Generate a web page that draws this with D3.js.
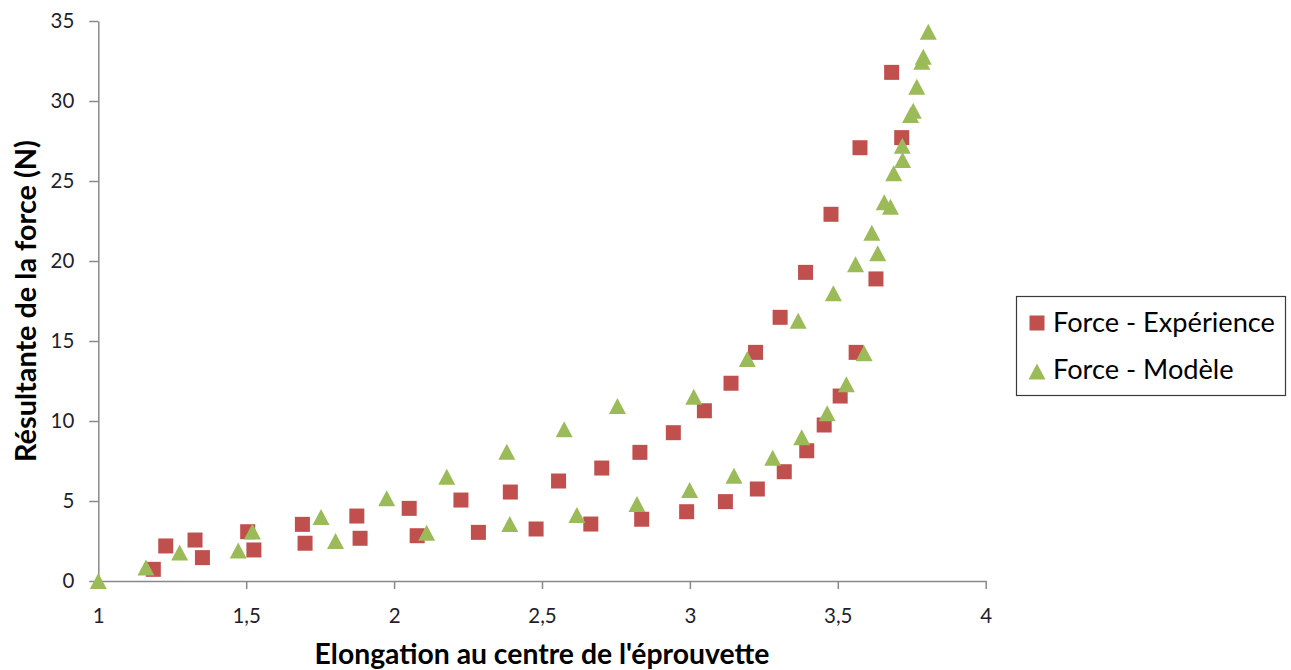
<!DOCTYPE html>
<html>
<head>
<meta charset="utf-8">
<script src="https://cdnjs.cloudflare.com/ajax/libs/d3/7.8.5/d3.min.js"></script>
<style>
  html, body { margin: 0; padding: 0; background: #fff; }
  svg { display: block; }
</style>
</head>
<body>
<svg id="chart" width="1291" height="670"></svg>
<script>
// ---- Data ----
const seriesNames = ["Force - Expérience", "Force - Modèle"];

const experienceX = [1.186, 1.228, 1.327, 1.352, 1.505, 1.526, 1.690, 1.699, 1.874, 1.885,
  2.051, 2.078, 2.226, 2.285, 2.393, 2.480, 2.556, 2.665, 2.702, 2.831,
  2.837, 2.944, 2.989, 3.049, 3.120, 3.139, 3.228, 3.222, 3.319, 3.305,
  3.395, 3.391, 3.454, 3.477, 3.508, 3.562, 3.575, 3.629, 3.682, 3.716];
const experienceY = [0.73, 2.19, 2.56, 1.46, 3.08, 1.94, 3.54, 2.36, 4.06, 2.67,
  4.54, 2.83, 5.06, 3.04, 5.56, 3.25, 6.25, 3.56, 7.06, 8.04,
  3.86, 9.27, 4.33, 10.64, 4.96, 12.36, 5.75, 14.29, 6.83, 16.48,
  8.14, 19.29, 9.75, 22.92, 11.56, 14.29, 27.08, 18.88, 31.79, 27.71];

const modelX = [1.000, 1.161, 1.275, 1.473, 1.521, 1.753, 1.802, 1.975, 2.110, 2.178,
  2.381, 2.391, 2.575, 2.618, 2.755, 2.821, 2.999, 3.013, 3.149, 3.194,
  3.280, 3.366, 3.378, 3.464, 3.485, 3.529, 3.560, 3.589, 3.635, 3.615,
  3.657, 3.678, 3.689, 3.719, 3.718, 3.746, 3.755, 3.767, 3.784, 3.789, 3.806];
const modelY = [0.00, 0.85, 1.78, 1.90, 3.10, 4.00, 2.50, 5.17, 3.02, 6.52,
  8.08, 3.56, 9.48, 4.13, 10.94, 4.81, 5.69, 11.52, 6.58, 13.88,
  7.71, 16.27, 8.98, 10.48, 17.98, 12.29, 19.79, 14.23, 20.48, 21.77,
  23.67, 23.39, 25.48, 26.31, 27.21, 29.13, 29.39, 30.89, 32.46, 32.77, 34.33];

const xTicks = [1, 1.5, 2, 2.5, 3, 3.5, 4];
const xTickLabels = ["1", "1,5", "2", "2,5", "3", "3,5", "4"];
const yTicks = [0, 5, 10, 15, 20, 25, 30, 35];
const yTickLabels = ["0", "5", "10", "15", "20", "25", "30", "35"];

const xTitle = "Elongation au centre de l'éprouvette";
const yTitle = "Résultante de la force (N)";

// ---- Layout ----
const FONT = "Lato, 'Open Sans', 'DejaVu Sans', sans-serif";
const plot = { left: 98.3, right: 985.7, top: 21, bottom: 581 };
const colors = { exp: "#C0504D", mod: "#9BBB59", axis: "#898989", text: "#1f1f2e" };

const svg = d3.select("#chart");

const x = d3.scaleLinear().domain([1, 4]).range([plot.left, plot.right]);
const y = d3.scaleLinear().domain([0, 35]).range([plot.bottom, plot.top]);

function fitWidth(sel, target) {
  const w = sel.node().getComputedTextLength();
  const fs = parseFloat(sel.attr("font-size"));
  sel.attr("font-size", fs * target / w);
}

// Y axis
const yAxis = svg.append("g")
  .attr("transform", `translate(${plot.left},0)`)
  .call(d3.axisLeft(y).tickValues(yTicks).tickFormat((d, i) => yTickLabels[i])
    .tickSize(9).tickPadding(15).tickSizeOuter(0));
// X axis
const xAxis = svg.append("g")
  .attr("transform", `translate(0,${plot.bottom})`)
  .call(d3.axisBottom(x).tickValues(xTicks).tickFormat((d, i) => xTickLabels[i])
    .tickSize(8).tickPadding(19).tickSizeOuter(0));

[yAxis, xAxis].forEach(g => {
  g.select(".domain").attr("stroke", colors.axis).attr("stroke-width", 1.5);
  g.selectAll(".tick line").attr("stroke", colors.axis).attr("stroke-width", 1.5);
  g.selectAll(".tick text").attr("fill", colors.text)
    .attr("font-family", FONT).attr("font-size", 20.5);
});

// Markers
const sqSize = 15;
const expData = experienceX.map((v, i) => ({ x: v, y: experienceY[i] }));
const modData = modelX.map((v, i) => ({ x: v, y: modelY[i] }));

svg.append("g").selectAll("rect").data(expData).join("rect")
  .attr("x", d => x(d.x) - sqSize / 2)
  .attr("y", d => y(d.y) - sqSize / 2)
  .attr("width", sqSize).attr("height", sqSize)
  .attr("fill", colors.exp);

const triPath = "M0,-8 L8.5,8 L-8.5,8 Z";
svg.append("g").selectAll("path").data(modData).join("path")
  .attr("d", triPath)
  .attr("transform", d => `translate(${x(d.x)},${y(d.y)})`)
  .attr("fill", colors.mod);

// Axis titles
const xt = svg.append("text")
  .attr("x", (plot.left + plot.right) / 2).attr("y", 664)
  .attr("text-anchor", "middle")
  .attr("font-family", FONT).attr("font-weight", "bold").attr("font-size", 22)
  .attr("fill", "#000").text(xTitle);
fitWidth(xt, 455);

const yt = svg.append("text")
  .attr("transform", `translate(35.5,${(plot.top + plot.bottom) / 2}) rotate(-90)`)
  .attr("text-anchor", "middle")
  .attr("font-family", FONT).attr("font-weight", "bold").attr("font-size", 22)
  .attr("fill", "#000").text(yTitle);
fitWidth(yt, 322);

// Legend
const legend = svg.append("g");
legend.append("rect")
  .attr("x", 1016.5).attr("y", 296.5).attr("width", 269).attr("height", 99)
  .attr("fill", "#fff").attr("stroke", "#3a3a3a").attr("stroke-width", 1.2);
legend.append("rect")
  .attr("x", 1037 - sqSize / 2).attr("y", 323 - sqSize / 2)
  .attr("width", sqSize).attr("height", sqSize).attr("fill", colors.exp);
legend.append("path").attr("d", triPath)
  .attr("transform", "translate(1037,371.5)").attr("fill", colors.mod);
const l1 = legend.append("text")
  .attr("x", 1053).attr("y", 331.5)
  .attr("font-family", FONT).attr("font-size", 22).attr("fill", "#000")
  .text(seriesNames[0]);
fitWidth(l1, 222);
const l2 = legend.append("text")
  .attr("x", 1053).attr("y", 379)
  .attr("font-family", FONT).attr("font-size", l1.attr("font-size")).attr("fill", "#000")
  .text(seriesNames[1]);
</script>
</body>
</html>
